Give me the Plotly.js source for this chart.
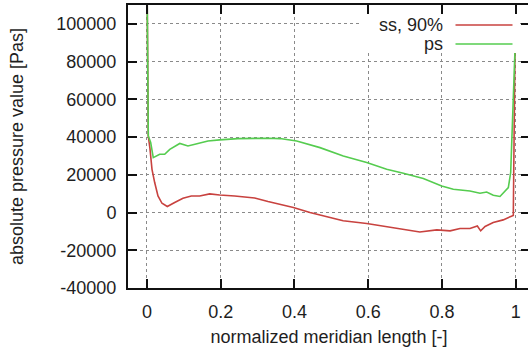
<!DOCTYPE html>
<html>
<head>
<meta charset="utf-8">
<script src="https://cdn.plot.ly/plotly-3.0.1.min.js"></script>
<style>
html, body { margin: 0; padding: 0; overflow: hidden; background: #fff; }
#chart { width: 532px; height: 351px; }
</style>
</head>
<body>
<div id="chart"></div>
<script>
// Data
const seriesNames = ["ss, 90%", "ps"];

const ssX = [0.0005, 0.0035, 0.008, 0.0136, 0.0209, 0.0298, 0.0407, 0.0551, 0.0751, 0.0976,
  0.1202, 0.1429, 0.1701, 0.1972, 0.2379, 0.2921, 0.3282, 0.352, 0.397, 0.442,
  0.487, 0.532, 0.596, 0.650, 0.686, 0.704, 0.740, 0.786, 0.822, 0.849,
  0.876, 0.896, 0.905, 0.917, 0.939, 0.966, 0.989, 0.9935, 0.998];
const ssY = [115000, 40600, 34000, 22900, 15900, 8800, 4900, 3200, 5300, 7600,
  8800, 8800, 9900, 9300, 8800, 7700, 5800, 4800, 2700, 0,
  -2100, -4400, -5800, -7500, -8600, -9200, -10300, -9200, -9700, -8500,
  -8500, -7100, -9700, -7400, -5300, -3900, -2100, -1500, 86000];

const psX = [0.0005, 0.0035, 0.010, 0.017, 0.0344, 0.048, 0.0618, 0.0889, 0.1112, 0.1383,
  0.1654, 0.197, 0.2465, 0.3282, 0.3607, 0.406, 0.4692, 0.5324, 0.5959, 0.6501,
  0.6862, 0.6952, 0.7494, 0.7993, 0.8308, 0.876, 0.9032, 0.9213, 0.9392, 0.9574,
  0.980, 0.9864, 0.998];
const psY = [115000, 40600, 37100, 29100, 30900, 30900, 33500, 36600, 35300, 36600,
  37900, 38500, 39200, 39400, 39200, 37900, 34400, 30000, 26500, 22900,
  21500, 20800, 18000, 14100, 12300, 11400, 10200, 10900, 9200, 8500,
  13200, 21200, 85600];

const xTicks = [0, 0.2, 0.4, 0.6, 0.8, 1];
const xTickText = ["0", "0.2", "0.4", "0.6", "0.8", "1"];
const yTicks = [-40000, -20000, 0, 20000, 40000, 60000, 80000, 100000];
const yTickText = ["-40000", "-20000", "0", "20000", "40000", "60000", "80000", "100000"];

const colors = ["#c8423f", "#55cc4f"];
const FONT = "Liberation Sans, Arial, Helvetica, sans-serif";

const traces = [
  { x: ssX, y: ssY, name: seriesNames[0], type: "scatter", mode: "lines",
    line: { color: colors[0], width: 1.6 }, showlegend: false },
  { x: psX, y: psY, name: seriesNames[1], type: "scatter", mode: "lines",
    line: { color: colors[1], width: 1.6 }, showlegend: false }
];

// plot area geometry helpers (paper coords) for manual gnuplot-style key
const L = 128, R = 530, T = 5, B = 288.3;
const px = v => (v - L) / (R - L);
const py = v => (B - v) / (B - T);

const layout = {
  width: 532, height: 351,
  margin: { l: 128, r: 2, t: 5, b: 63 },
  paper_bgcolor: "#fff", plot_bgcolor: "#fff",
  font: { family: FONT, size: 18, color: "#1e1e1e" },
  xaxis: {
    range: [-0.0515, 1.0388],
    tickvals: xTicks, ticktext: xTickText,
    ticks: "inside", ticklen: 9, tickwidth: 2, tickcolor: "#111",
    showline: true, linewidth: 2, linecolor: "#111", mirror: "ticks",
    showgrid: true, gridcolor: "#8a8a8a", gridwidth: 1, griddash: "dot",
    zeroline: false,
    ticklabelstandoff: 6,
    tickfont: { family: FONT, size: 18, color: "#1e1e1e" },
    title: { text: "normalized meridian length [-]", standoff: 10,
             font: { family: FONT, size: 18, color: "#1e1e1e" } }
  },
  yaxis: {
    range: [-40000, 110000],
    tickvals: yTicks, ticktext: yTickText,
    ticks: "inside", ticklen: 9, tickwidth: 2, tickcolor: "#111",
    showline: true, linewidth: 2, linecolor: "#111", mirror: "ticks",
    showgrid: true, gridcolor: "#8a8a8a", gridwidth: 1, griddash: "dot",
    zeroline: false,
    ticklabelstandoff: 6,
    tickfont: { family: FONT, size: 18, color: "#1e1e1e" },
    title: { text: "absolute pressure value [Pas]", standoff: 28,
             font: { family: FONT, size: 18, color: "#1e1e1e" } }
  },
  shapes: [
    { type: "rect", xref: "paper", yref: "paper", layer: "above",
      x0: px(362), x1: px(520), y0: py(53), y1: py(16),
      fillcolor: "#fff", line: { width: 0 } },
    { type: "line", xref: "paper", yref: "paper", layer: "above",
      x0: px(455.5), x1: px(512.5), y0: py(25), y1: py(25),
      line: { color: colors[0], width: 1.6 } },
    { type: "line", xref: "paper", yref: "paper", layer: "above",
      x0: px(455.5), x1: px(512.5), y0: py(44), y1: py(44),
      line: { color: colors[1], width: 1.6 } }
  ],
  annotations: [
    { xref: "paper", yref: "paper", x: px(445), y: py(25), xanchor: "right", yanchor: "middle",
      text: seriesNames[0], showarrow: false, font: { family: FONT, size: 18, color: "#1e1e1e" } },
    { xref: "paper", yref: "paper", x: px(445), y: py(44), xanchor: "right", yanchor: "middle",
      text: seriesNames[1], showarrow: false, font: { family: FONT, size: 18, color: "#1e1e1e" } }
  ]
};

Plotly.newPlot("chart", traces, layout, { staticPlot: true, displayModeBar: false });
</script>
</body>
</html>
